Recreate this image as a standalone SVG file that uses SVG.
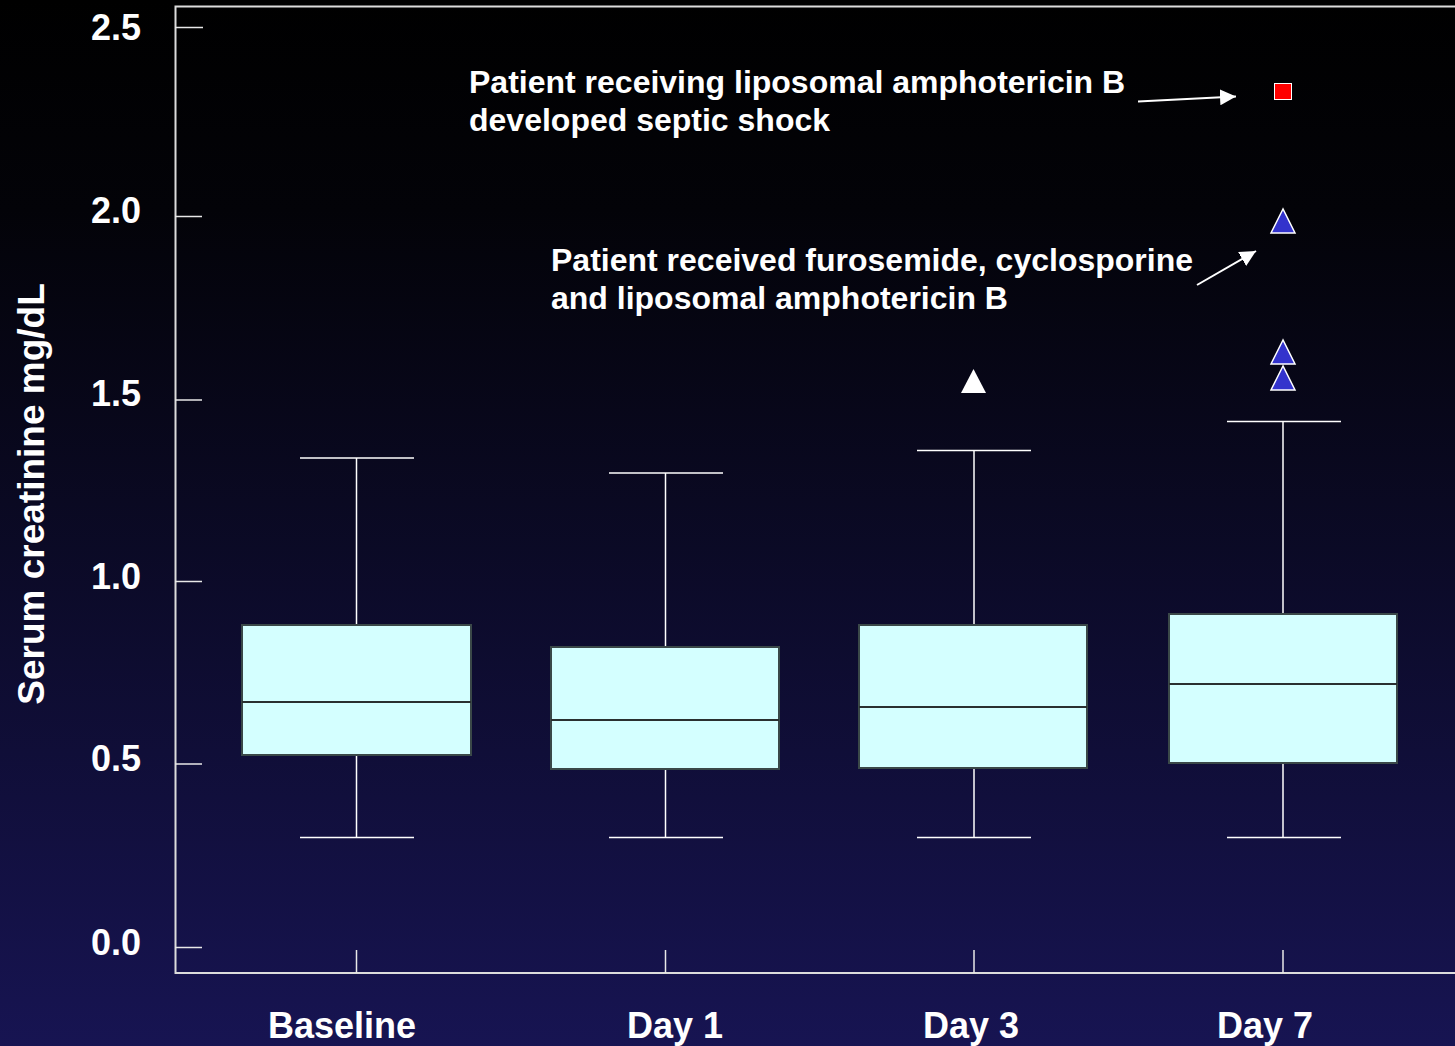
<svg xmlns="http://www.w3.org/2000/svg" width="1455" height="1046" viewBox="0 0 1455 1046">
<defs>
<linearGradient id="bg" x1="0" y1="0" x2="0" y2="1">
<stop offset="0" stop-color="#000000"/>
<stop offset="0.2" stop-color="#030308"/>
<stop offset="1" stop-color="#171452"/>
</linearGradient>
<marker id="ah" viewBox="0 0 10 10" refX="10" refY="5" markerWidth="16" markerHeight="16" markerUnits="userSpaceOnUse" orient="auto">
<path d="M0,0 L10,5 L0,10 z" fill="#ffffff"/>
</marker>
<style>
.ax{stroke:#dcdcdc;stroke-width:2;fill:none}
.tk{stroke:#e8e8e8;stroke-width:1.5}
.wh{stroke:#ffffff;stroke-width:1.5;fill:none}
.box{fill:#d4ffff;stroke:#3a4848;stroke-width:2}
.med{stroke:#2a3030;stroke-width:2}
.t{font-family:"Liberation Sans",Arial,sans-serif;font-weight:bold;fill:#ffffff}
.tl{font-size:36px;text-anchor:end}
.cl{font-size:36px;text-anchor:middle}
.an{font-size:32px}
.tri{fill:#3333cc;stroke:#ffffff;stroke-width:1.5}
.arr{stroke:#ffffff;stroke-width:2;fill:none;marker-end:url(#ah)}
</style>
</defs>
<rect width="1455" height="1046" fill="url(#bg)"/>
<g id="axes">
<path class="ax" d="M1455,6.5 H175.5 V973 H1455"/>
<line class="tk" x1="175" y1="27.5" x2="203" y2="27.5"/>
<line class="tk" x1="175" y1="216.5" x2="202" y2="216.5"/>
<line class="tk" x1="175" y1="400" x2="202" y2="400"/>
<line class="tk" x1="175" y1="581.5" x2="202" y2="581.5"/>
<line class="tk" x1="175" y1="764" x2="202" y2="764"/>
<line class="tk" x1="175" y1="947.5" x2="202" y2="947.5"/>
<line class="tk" x1="356.5" y1="950" x2="356.5" y2="973"/>
<line class="tk" x1="665.5" y1="950" x2="665.5" y2="973"/>
<line class="tk" x1="974" y1="950" x2="974" y2="973"/>
<line class="tk" x1="1283" y1="950" x2="1283" y2="973"/>
<text class="t tl" x="141" y="40">2.5</text>
<text class="t tl" x="141" y="223">2.0</text>
<text class="t tl" x="141" y="406">1.5</text>
<text class="t tl" x="141" y="589">1.0</text>
<text class="t tl" x="141" y="771">0.5</text>
<text class="t tl" x="141" y="955">0.0</text>
<text class="t" font-size="37" text-anchor="middle" transform="translate(44,494) rotate(-90)">Serum creatinine mg/dL</text>
<text class="t cl" x="342" y="1038">Baseline</text>
<text class="t cl" x="675" y="1038">Day 1</text>
<text class="t cl" x="971" y="1038">Day 3</text>
<text class="t cl" x="1265" y="1038">Day 7</text>
</g>
<g id="baseline">
<line class="wh" x1="356.5" y1="458" x2="356.5" y2="625"/>
<line class="wh" x1="356.5" y1="755" x2="356.5" y2="837"/>
<line class="wh" x1="300" y1="458" x2="414" y2="458"/>
<line class="wh" x1="300" y1="837.5" x2="414" y2="837.5"/>
<rect class="box" x="242" y="625" width="229" height="130"/>
<line class="med" x1="242" y1="702" x2="471" y2="702"/>
</g>
<g id="day1">
<line class="wh" x1="665.5" y1="473" x2="665.5" y2="647"/>
<line class="wh" x1="665.5" y1="769" x2="665.5" y2="837"/>
<line class="wh" x1="609" y1="473" x2="723" y2="473"/>
<line class="wh" x1="609" y1="837.5" x2="723" y2="837.5"/>
<rect class="box" x="551" y="647" width="228" height="122"/>
<line class="med" x1="551" y1="720" x2="779" y2="720"/>
</g>
<g id="day3">
<line class="wh" x1="974" y1="450.5" x2="974" y2="625"/>
<line class="wh" x1="974" y1="768" x2="974" y2="837"/>
<line class="wh" x1="917" y1="450.5" x2="1031" y2="450.5"/>
<line class="wh" x1="917" y1="837.5" x2="1031" y2="837.5"/>
<rect class="box" x="859" y="625" width="228" height="143"/>
<line class="med" x1="859" y1="707" x2="1087" y2="707"/>
<polygon points="973.5,369 961,393 986,393" fill="#ffffff"/>
</g>
<g id="day7">
<line class="wh" x1="1283" y1="421.5" x2="1283" y2="614"/>
<line class="wh" x1="1283" y1="763" x2="1283" y2="837"/>
<line class="wh" x1="1227" y1="421.5" x2="1341" y2="421.5"/>
<line class="wh" x1="1227" y1="837.5" x2="1341" y2="837.5"/>
<rect class="box" x="1169" y="614" width="228" height="149"/>
<line class="med" x1="1169" y1="684" x2="1397" y2="684"/>
<polygon class="tri" points="1283,366 1271,390 1295,390"/>
<polygon class="tri" points="1283,340 1271,364 1295,364"/>
<polygon class="tri" points="1283,209 1271,233 1295,233"/>
<rect x="1274.5" y="83.5" width="17" height="16" fill="#ff0000" stroke="#ffffff" stroke-width="1"/>
</g>
<g id="annotations">
<text class="t an" x="469" y="93">Patient receiving liposomal amphotericin B</text>
<text class="t an" x="469" y="131">developed septic shock</text>
<text class="t an" x="551" y="271">Patient received furosemide, cyclosporine</text>
<text class="t an" x="551" y="309">and liposomal amphotericin B</text>
</g>
<g id="connectors">
<line class="arr" x1="1138" y1="101.5" x2="1236" y2="96.5"/>
<line class="arr" x1="1197" y1="285" x2="1256" y2="251"/>
</g>
</svg>
